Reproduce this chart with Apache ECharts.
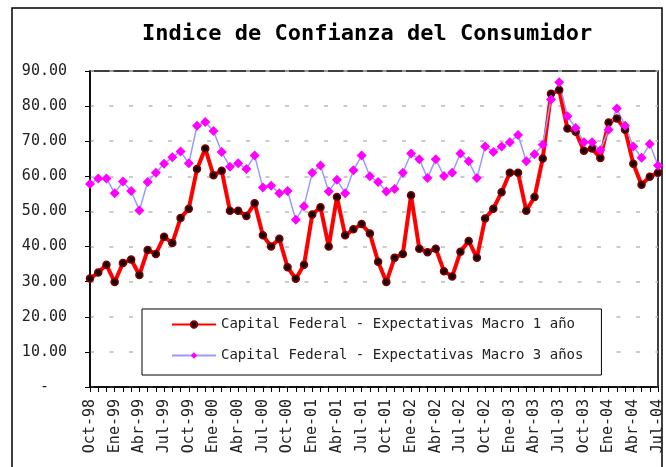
<!DOCTYPE html>
<html>
<head>
<meta charset="utf-8">
<script src="https://cdn.jsdelivr.net/npm/echarts@6/dist/echarts.min.js"></script>
<style>html,body{margin:0;padding:0;background:#fff}#c{width:666px;height:467px}</style>
</head>
<body>
<div id="c"></div>
<script>
var monthNames = ['Ene','Feb','Mar','Abr','May','Jun','Jul','Ago','Sep','Oct','Nov','Dic'];
var startYear = 1998, startMonth = 9, monthCount = 70;
var categories = [];
for (var i = 0; i < monthCount; i++) {
  var m = (startMonth + i) % 12;
  var y = startYear + Math.floor((startMonth + i) / 12);
  categories.push(monthNames[m] + '-' + String(y).slice(2));
}
var seriesNames = ['Capital Federal - Expectativas Macro 1 año', 'Capital Federal - Expectativas Macro 3 años'];
var macro1 = [30.9,32.6,34.8,29.9,35.3,36.3,31.9,39.0,37.9,42.8,41.0,48.1,50.8,62.1,67.9,60.3,61.6,50.2,50.2,48.7,
  52.3,43.2,40.0,42.2,34.1,30.8,34.8,49.1,51.2,40.0,54.1,43.2,44.9,46.4,43.7,35.7,29.9,36.8,37.9,54.6,
  39.4,38.4,39.4,33.0,31.5,38.5,41.6,36.8,48.0,50.8,55.5,61.0,61.0,50.2,54.1,65.1,83.5,84.6,73.6,72.7,
  67.3,67.9,65.2,75.3,76.5,73.3,63.6,57.6,59.9,61.0];
var macro3 = [57.8,59.4,59.4,55.2,58.5,55.8,50.3,58.4,61.0,63.6,65.4,67.1,63.7,74.4,75.5,72.9,66.9,62.7,63.7,62.1,
  65.9,56.8,57.3,55.2,55.8,47.6,51.5,61.0,63.1,55.7,59.0,55.2,61.7,65.9,60.0,58.4,55.7,56.4,61.0,66.5,
  64.9,59.5,64.9,60.1,61.0,66.5,64.3,59.5,68.5,66.9,68.5,69.7,71.8,64.3,66.3,69.0,81.9,86.8,77.1,73.8,
  69.7,69.7,67.4,73.3,79.3,74.4,68.5,65.3,69.2,63.1];
var titleText = 'Indice de Confianza del Consumidor';

var mono = 'DejaVu Sans Mono';
var chart = echarts.init(document.getElementById('c'), null, {renderer: 'canvas'});
chart.setOption({
  backgroundColor: '#fff',
  animation: false,
  title: {
    text: titleText, left: 142, top: 23, padding: 0,
    textStyle: {fontFamily: mono, fontWeight: 'bold', fontSize: 22, color: '#000'}
  },
  graphic: [{
    type: 'rect', shape: {x: 12, y: 8, width: 650, height: 480},
    style: {fill: 'none', stroke: '#000', lineWidth: 1.5}, z: -1
  }],
  grid: {left: 90, right: 8, top: 71, bottom: 80, show: true, borderColor: '#000', borderWidth: 1.5, backgroundColor: '#fff'},
  legend: {
    orient: 'vertical', left: 142, top: 309,
    itemWidth: 44, itemHeight: 8, itemGap: 14,
    padding: [7, 18, 11, 29],
    borderColor: '#000', borderWidth: 1, backgroundColor: '#fff',
    textStyle: {fontFamily: mono, fontSize: 14, color: '#222', lineHeight: 17},
    data: seriesNames
  },
  xAxis: {
    type: 'category', data: categories, boundaryGap: false,
    axisLine: {lineStyle: {color: '#000', width: 1.5}},
    axisTick: {interval: 0, length: 5, lineStyle: {color: '#000'}},
    axisLabel: {interval: 2, rotate: 90, margin: 12, fontFamily: mono, fontSize: 15, color: '#222'},
    splitLine: {show: false}
  },
  yAxis: {
    type: 'value', min: 0, max: 90, interval: 10,
    axisLine: {show: true, lineStyle: {color: '#000', width: 1.5}},
    axisTick: {show: true, length: 5, lineStyle: {color: '#000'}},
    axisLabel: {margin: 23, fontFamily: mono, fontSize: 15, color: '#222',
      formatter: function (v) { return v === 0 ? '-  ' : v.toFixed(2); }},
    splitLine: {show: true, lineStyle: {color: '#bbb', width: 1.5, type: [4, 15.5]}}
  },
  series: [{
    name: seriesNames[0], type: 'line', data: macro1,
    symbol: 'circle', symbolSize: 7, showAllSymbol: true,
    lineStyle: {color: '#ff0000', width: 4},
    itemStyle: {color: '#1a0000', borderColor: '#800000', borderWidth: 1.5}
  }, {
    name: seriesNames[1], type: 'line', data: macro3,
    symbol: 'diamond', symbolSize: 10, showAllSymbol: true,
    lineStyle: {color: '#9999ff', width: 1.5},
    itemStyle: {color: '#ff00ff'}
  }]
});
</script>
</body>
</html>
